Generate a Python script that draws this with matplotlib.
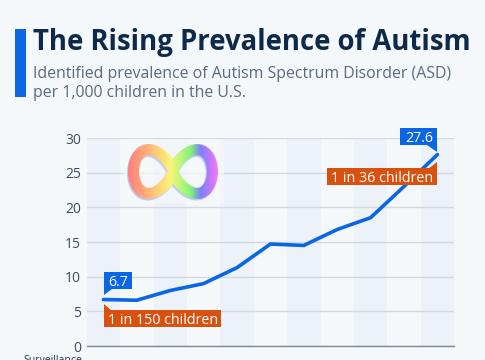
import numpy as np
import matplotlib
matplotlib.use("Agg")
import matplotlib.pyplot as plt
from matplotlib.patches import Rectangle, Polygon
from matplotlib.transforms import IdentityTransform

W, H = 485, 360
BG = "#f5f8fb"
BAND = "#edf1f8"
BLUE = "#0b66e4"
ORANGE = "#d9510f"
NAVY = "#0e2a4a"

years = [2000, 2002, 2004, 2006, 2008, 2010, 2012, 2014, 2016, 2018, 2020]
prevalence = [6.7, 6.6, 8.0, 9.0, 11.3, 14.7, 14.5, 16.8, 18.5, 23.0, 27.6]
y_ticks = [0, 5, 10, 15, 20, 25, 30]

plt.rcParams['font.family'] = ['Open Sans', 'DejaVu Sans']

fig = plt.figure(figsize=((W + 0.1) / 100, (H + 0.1) / 100), dpi=100, facecolor=BG)
ax = fig.add_axes([86.7 / W, (H - 346) / H, (454 - 86.7) / W, (346 - 138) / H])
ax.set_facecolor("none")
xs = np.arange(len(years))
ax.set_xlim(-0.5, len(years) - 0.5)
ax.set_ylim(0, 30)

# alternating column bands
for x in xs[::2]:
    ax.axvspan(x - 0.5, x + 0.5, color=BAND, lw=0, zorder=0)

ax.set_yticks(y_ticks)
ax.set_xticks([])
ax.tick_params(axis="y", length=0, pad=4, labelsize=10, labelcolor="#3d4b5f")
ax.grid(axis="y", color="#d3d8e1", lw=1, zorder=1)
for s in ["top", "right", "left"]:
    ax.spines[s].set_visible(False)
ax.spines["bottom"].set_color("#7d8796")
ax.spines["bottom"].set_linewidth(1)

ax.plot(xs, prevalence, color=BLUE, lw=2.6, zorder=3, clip_on=False,
        solid_capstyle="round", solid_joinstyle="miter")


def label(x, y, txt, color, box, pointer):
    # box and pointer are pixel offsets from the data point
    px, py = ax.transData.transform((x, y))
    x0, x1, y0, y1 = box
    fig.add_artist(Rectangle((px + x0, py + y0), x1 - x0, y1 - y0, fc=color, ec="none",
                             transform=IdentityTransform(), zorder=5))
    fig.add_artist(Polygon([(px + a, py + b) for a, b in pointer], closed=True, fc=color,
                           ec="none", transform=IdentityTransform(), zorder=5))
    fig.text(px + (x0 + x1) / 2, py + (y0 + y1) / 2, txt, color="white", fontsize=10.3,
             ha="center", va="center_baseline", transform=IdentityTransform(), zorder=6)


label(xs[0], prevalence[0], "6.7", BLUE, (0.5, 29, 10.5, 27.5), [(0.5, 4.5), (0.5, 11), (9, 11)])
label(xs[0], prevalence[0], "1 in 150 children", ORANGE, (0.5, 118, -27.5, -10.5), [(0.5, -4), (0.5, -11), (9, -11)])
label(xs[-1], prevalence[-1], "27.6", BLUE, (-37, 0, 9.3, 26.6), [(0, 2.5), (0, 10), (-10, 10)])
label(xs[-1], prevalence[-1], "1 in 36 children", ORANGE, (-110, 0, -30.5, -13.5), [(0, -7.5), (0, -14), (-9, -14)])

# infinity icon, with a pale halo hiding the gridline behind it
fig.add_artist(Rectangle((124 / W, (H - 203) / H), 100 / W, 64 / H, fc=BG, ec="none",
                         alpha=0.75, zorder=1.5))
icon_ax = fig.add_axes([124 / W, (H - 203) / H, 100 / W, 64 / H], zorder=2)
icon_ax.axis("off")
gx, gy = np.meshgrid(np.arange(124, 224) + 0.5, np.arange(139, 203) + 0.5)
t = np.linspace(0, 2 * np.pi, 500)
c = np.cos(t)
cx = 172.5 + 39 * np.sign(c) * np.abs(c) ** 1.4
cy = 172 + 21.5 * np.sin(2 * t)


def dist(ox, oy):
    d = (gx[..., None] - (cx[None, None, :] + ox)) ** 2 + (gy[..., None] - (cy[None, None, :] + oy)) ** 2
    return np.sqrt(d.min(axis=2))


stops = np.array([[255, 125, 125], [255, 185, 120], [250, 245, 120], [130, 245, 120],
                  [125, 125, 250], [245, 120, 250]]) / 255
pos = np.array([128, 150, 170, 190, 200, 217])
rgb = np.dstack([np.interp(gx, pos, stops[:, i]) for i in range(3)])
alpha = np.clip(5.5 - dist(0, 0) + 0.5, 0, 1)
shadow = np.clip(5.5 - dist(-1, 1.5) + 0.5, 0, 1)
img = np.dstack([rgb, alpha])
sh = np.dstack([np.full(gx.shape + (3,), 0.0) + np.array([0.72, 0.80, 0.95]), shadow])
icon_ax.imshow(sh, interpolation="bilinear", aspect="auto")
icon_ax.imshow(img, interpolation="bilinear", aspect="auto")

# header
fig.add_artist(Rectangle((15 / W, (H - 97) / H), 11 / W, 68 / H, fc=BLUE, ec="none"))
fig.text(32.5 / W, (H - 50) / H, "The Rising Prevalence of Autism", fontsize=19.8,
         fontweight="bold", color=NAVY, ha="left", va="baseline")
fig.text(32.5 / W, (H - 78) / H, "Identified prevalence of Autism Spectrum Disorder (ASD)",
         fontsize=11.45, color="#5a6a80", ha="left", va="baseline")
fig.text(32.5 / W, (H - 97) / H, "per 1,000 children in the U.S.",
         fontsize=11.45, color="#5a6a80", ha="left", va="baseline")
fig.text(82 / W, (H - 363) / H, "Surveillance", fontsize=7.6, color="#26364d", ha="right", va="baseline")

fig.savefig("out.png", dpi=100, facecolor=BG)
